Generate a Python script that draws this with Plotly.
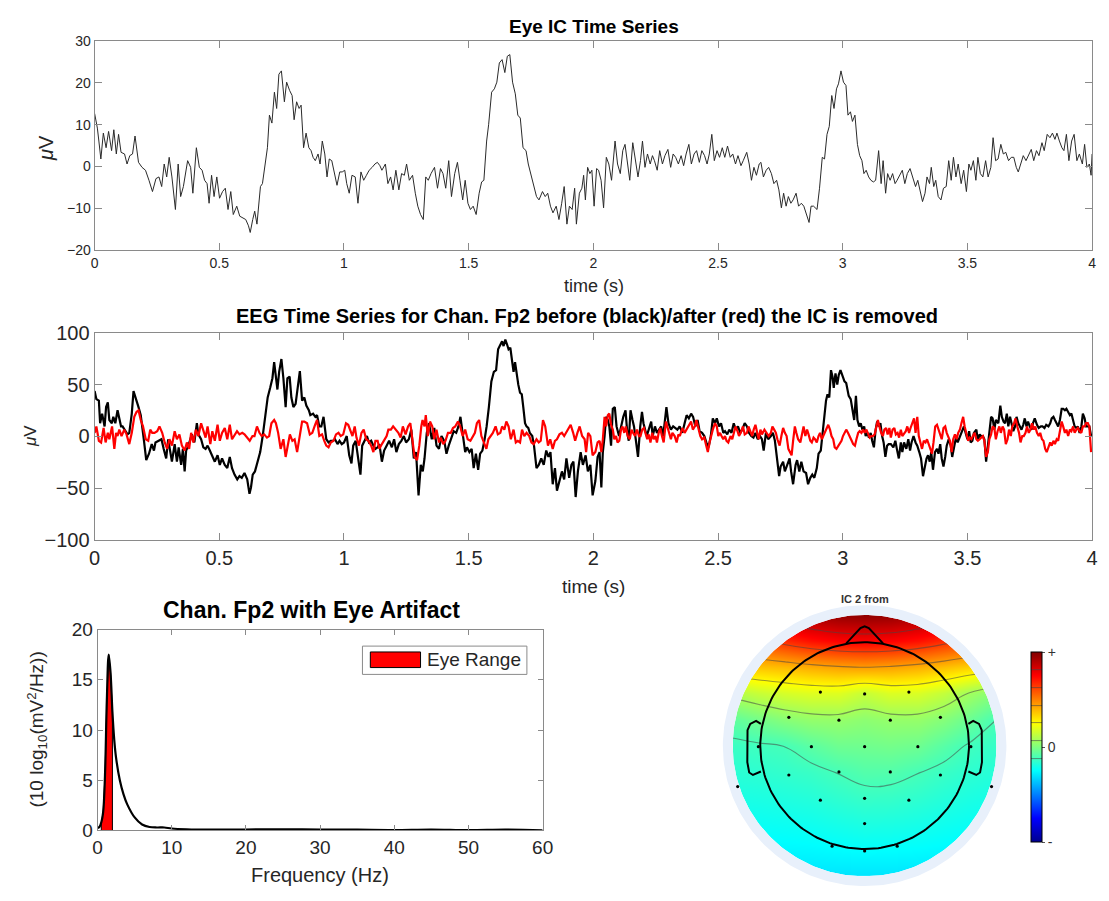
import numpy as np
import plotly.graph_objects as go

FONT = "Liberation Sans, Arial, Helvetica, sans-serif"
W, H = 1109, 901

# ---------------- Eye IC activation (time s, µV) ----------------
ic_pts = [
    (0.000, 12.7), (0.011, 9.2), (0.017, 6.1), (0.025, 1.8), (0.035, 8.0), (0.046, 4.5), (0.056, 8.4), (0.068, 3.8),
    (0.077, 8.8), (0.087, 3.0), (0.096, 7.7), (0.106, 3.4), (0.120, 3.0), (0.130, 0.6), (0.141, 2.6), (0.152, 3.0),
    (0.162, 7.3), (0.176, 1.0), (0.190, -0.2), (0.204, -0.9), (0.218, -3.3), (0.232, -6.0), (0.246, -2.9), (0.258, -2.5),
    (0.269, -4.8), (0.279, 0.6), (0.289, -2.5), (0.299, 2.2), (0.310, -2.5), (0.324, -10.3), (0.335, 0.6), (0.345, -7.2),
    (0.356, -4.8), (0.373, 1.4), (0.385, -0.2), (0.394, -6.4), (0.408, 4.5), (0.420, -0.2), (0.431, -0.9), (0.441, -3.3),
    (0.451, -4.1), (0.459, -8.8), (0.469, -2.1), (0.479, -7.2), (0.490, -2.5), (0.501, -7.6), (0.513, -6.0), (0.524, -5.2),
    (0.535, -10.3), (0.546, -6.0), (0.556, -11.5), (0.570, -9.5), (0.582, -11.9), (0.594, -12.3), (0.606, -12.7), (0.617, -14.2),
    (0.624, -15.8), (0.634, -12.7), (0.642, -10.7), (0.651, -13.8), (0.659, -9.5), (0.665, -4.8), (0.673, -4.1), (0.683, -0.2),
    (0.693, 4.5), (0.701, 12.3), (0.711, 10.4), (0.721, 17.8), (0.730, 13.9), (0.739, 22.1), (0.749, 22.9), (0.761, 15.5),
    (0.770, 20.2), (0.782, 18.2), (0.792, 17.0), (0.800, 11.2), (0.810, 15.5), (0.820, 13.9), (0.828, 14.7), (0.838, 4.5),
    (0.848, 8.0), (0.859, 4.5), (0.868, 3.8), (0.876, 2.2), (0.885, 1.4), (0.896, 3.0), (0.904, 0.6), (0.913, 6.1),
    (0.923, 3.0), (0.932, -2.5), (0.941, 1.8), (0.951, 1.4), (0.961, -1.3), (0.972, -4.5), (0.983, -1.3), (0.993, -1.3),
    (1.003, -0.9), (1.011, -4.1), (1.021, -6.4), (1.032, -2.1), (1.045, -2.5), (1.056, -8.8), (1.068, -1.3), (1.079, -3.3),
    (1.090, -2.1), (1.101, -0.9), (1.113, -0.2), (1.124, 0.6), (1.134, 1.0), (1.144, 0.2), (1.152, -0.9), (1.166, 0.6),
    (1.176, -4.1), (1.187, -2.5), (1.197, -5.6), (1.208, -0.9), (1.220, -5.6), (1.231, -1.7), (1.242, -2.1), (1.251, 0.6),
    (1.262, -3.3), (1.275, -2.1), (1.286, -6.4), (1.296, -9.5), (1.307, -11.5), (1.318, -12.7), (1.328, -2.5), (1.338, -3.3),
    (1.349, -1.7), (1.363, -0.2), (1.375, -5.2), (1.387, -0.5), (1.397, -1.7), (1.408, -5.2), (1.420, 1.4), (1.431, -7.2),
    (1.444, -1.7), (1.455, 1.0), (1.465, -3.3), (1.476, -8.0), (1.486, -3.3), (1.497, -8.8), (1.507, -10.3), (1.518, -9.5),
    (1.530, -11.5), (1.542, -6.4), (1.552, -3.7), (1.561, -3.3), (1.572, 6.1), (1.580, 10.0), (1.592, 17.8), (1.603, 18.6),
    (1.613, 20.2), (1.623, 24.8), (1.634, 25.6), (1.645, 22.5), (1.655, 26.4), (1.665, 26.8), (1.676, 20.2), (1.687, 17.4),
    (1.697, 12.3), (1.707, 11.6), (1.718, 4.5), (1.730, 3.8), (1.739, 0.6), (1.749, -1.7), (1.761, -4.8), (1.772, -7.2),
    (1.782, -8.0), (1.796, -6.0), (1.807, -7.2), (1.817, -6.4), (1.828, -9.5), (1.838, -11.1),
    (1.851, -9.5), (1.862, -12.7), (1.873, -8.8), (1.883, -4.8), (1.894, -13.8), (1.904, -9.5), (1.915, -10.3), (1.925, -5.2),
    (1.932, -13.8), (1.944, -6.4), (1.954, -5.2), (1.961, -2.1), (1.968, -8.0), (1.977, -0.2), (1.986, -1.7), (1.994, -0.9),
    (2.003, -9.5), (2.013, -0.5), (2.021, -0.9), (2.031, -3.3), (2.041, -9.9), (2.052, 2.2), (2.062, 0.6), (2.073, -3.3),
    (2.087, 6.1), (2.097, 0.6), (2.108, -1.7), (2.118, 3.8), (2.127, 5.3), (2.137, 0.6), (2.146, -3.3), (2.158, 5.7),
    (2.168, 1.4), (2.179, -2.5), (2.189, 1.4), (2.197, 6.1), (2.207, -0.2), (2.217, 3.0), (2.228, 0.6), (2.237, 2.6),
    (2.245, 1.4), (2.256, -0.9), (2.266, 3.8), (2.277, 0.6), (2.287, 2.6), (2.299, 4.1), (2.310, -0.2), (2.320, 3.0),
    (2.330, 2.2), (2.341, 0.6), (2.352, 2.6), (2.362, 0.2), (2.372, 3.0), (2.383, 5.3), (2.393, 0.6), (2.404, 3.0),
    (2.414, 3.8), (2.425, 1.0), (2.435, 3.8), (2.446, 2.6), (2.456, 0.6), (2.465, 3.0), (2.475, 7.7), (2.485, 1.4),
    (2.496, 3.8), (2.506, 2.2), (2.517, 4.5), (2.527, 2.2), (2.538, 4.9), (2.549, 2.2), (2.559, 3.0), (2.570, 0.6),
    (2.580, 2.6), (2.592, 0.2), (2.601, 1.4), (2.615, 3.4), (2.625, 0.6), (2.634, -3.3), (2.644, -0.2), (2.654, -2.1),
    (2.665, 0.6), (2.672, 1.0), (2.682, -2.5), (2.693, -0.9), (2.703, -0.2), (2.714, -1.7), (2.724, -4.1), (2.735, -3.3),
    (2.744, -5.6), (2.754, -9.9), (2.763, -6.4), (2.773, -9.5), (2.782, -7.2), (2.792, -8.8), (2.801, -8.0), (2.813, -6.4),
    (2.823, -9.5), (2.834, -8.8), (2.844, -9.5), (2.852, -11.1), (2.865, -13.4), (2.873, -9.5), (2.883, -9.5), (2.897, -10.3),
    (2.907, -5.2), (2.918, 2.2), (2.927, 1.8), (2.937, 7.7), (2.946, 9.6), (2.956, 17.0), (2.965, 13.9), (2.975, 18.6),
    (2.983, 19.8), (2.993, 22.9), (3.003, 20.2), (3.013, 19.4), (3.021, 12.3), (3.031, 13.1), (3.039, 10.8), (3.049, 12.3),
    (3.059, 5.3), (3.068, 2.6), (3.077, 1.4), (3.085, -1.7), (3.094, -0.9), (3.104, -2.5), (3.113, -3.3), (3.123, -3.7),
    (3.132, -3.3), (3.144, 3.8), (3.154, -4.1), (3.162, 1.4), (3.172, -6.4), (3.180, -1.7), (3.190, -3.3), (3.200, -1.7),
    (3.210, -4.1), (3.218, -3.3), (3.228, -2.1), (3.239, -0.9), (3.249, -4.1), (3.259, -1.7), (3.270, -0.5), (3.280, -2.5),
    (3.292, -4.8), (3.301, -3.3), (3.310, -5.6), (3.320, -8.4), (3.330, -6.4), (3.338, -2.5), (3.348, -4.1), (3.355, -0.2),
    (3.365, -4.8), (3.373, -3.3), (3.383, -7.2), (3.394, -8.0), (3.404, -5.2), (3.415, -4.8), (3.425, 1.4), (3.435, -3.3),
    (3.444, 2.2), (3.454, -2.5), (3.463, 0.6), (3.475, -4.1), (3.485, -0.9), (3.496, -6.0), (3.506, 0.6), (3.514, -0.9),
    (3.524, 1.4), (3.534, -3.3), (3.542, 2.2), (3.552, -1.7), (3.562, -2.5), (3.573, 1.4), (3.583, -2.5), (3.594, -0.2),
    (3.603, 6.9), (3.613, 1.4), (3.623, 1.8), (3.634, 5.3), (3.644, 3.0), (3.654, 3.4), (3.665, 1.4), (3.676, 2.2),
    (3.686, 2.2), (3.696, -0.2), (3.704, -1.3), (3.714, 0.6), (3.724, 2.6), (3.735, 1.4), (3.746, 3.0), (3.756, 4.1),
    (3.766, 1.4), (3.777, 3.8), (3.787, 2.6), (3.799, 5.7), (3.808, 3.8), (3.820, 7.7), (3.831, 6.9), (3.841, 8.0),
    (3.851, 6.5), (3.859, 8.0), (3.869, 6.1), (3.879, 4.5), (3.887, 3.8), (3.897, 7.7), (3.907, 1.4), (3.918, 6.1),
    (3.928, 7.7), (3.939, 1.4), (3.949, 3.0), (3.961, 0.6), (3.970, 5.3), (3.979, -0.2), (3.989, 0.6), (3.996, -2.1),
    (4.000, 3.0),
]

# ---------------- Fp2 before IC removal (time s, µV) ----------------
fp2_before_pts = [
    (0.000, 43.8), (0.007, 36.0), (0.017, 34.5), (0.022, 12.7), (0.030, 22.0), (0.040, 9.6), (0.046, 28.3), (0.053, 32.9),
    (0.059, 15.8), (0.069, 12.7), (0.075, 18.9), (0.083, 12.7), (0.092, 25.2), (0.099, 15.8), (0.106, 9.6), (0.112, 9.6),
    (0.123, 5.0), (0.132, 1.9), (0.139, 3.4), (0.149, 22.0), (0.156, 43.8), (0.165, 37.6), (0.176, 28.3), (0.185, 20.5),
    (0.192, 9.6), (0.198, -4.3), (0.207, -23.0), (0.218, -16.8), (0.229, -7.5), (0.238, -13.7), (0.244, -5.9), (0.258, -4.3),
    (0.268, -2.8), (0.277, -12.1), (0.287, -21.4), (0.295, -2.8), (0.304, -18.3), (0.310, -24.5), (0.321, -7.5), (0.330, -24.5),
    (0.337, -10.6), (0.347, -27.6), (0.354, -12.1), (0.361, -33.9), (0.367, -13.7), (0.376, -9.0), (0.390, 1.9), (0.400, -5.9),
    (0.410, 12.7), (0.416, 1.9), (0.427, -2.8), (0.436, -10.6), (0.445, -12.1), (0.453, -9.0), (0.462, -13.7), (0.472, -19.9),
    (0.482, -24.5), (0.493, -18.3), (0.502, -27.6), (0.511, -21.4), (0.522, -27.6), (0.532, -30.7), (0.542, -19.9), (0.551, -30.7),
    (0.561, -37.0), (0.572, -41.6), (0.581, -38.5), (0.590, -40.1), (0.601, -35.4), (0.612, -41.6), (0.621, -55.6), (0.627, -49.4),
    (0.634, -37.0), (0.643, -33.9), (0.654, -24.5), (0.664, -15.2), (0.674, 0.3), (0.683, 15.8), (0.694, 37.6), (0.704, 46.9),
    (0.713, 56.2), (0.720, 71.7), (0.727, 59.3), (0.733, 45.3), (0.740, 62.4), (0.749, 74.8), (0.757, 56.2), (0.766, 28.3),
    (0.773, 56.2), (0.782, 57.8), (0.789, 37.6), (0.797, 28.3), (0.806, 31.4), (0.815, 46.9), (0.823, 63.0), (0.832, 34.5),
    (0.841, 37.6), (0.849, 29.8), (0.859, 25.2), (0.865, 20.5), (0.876, 22.0), (0.885, 18.9), (0.892, 20.5), (0.901, 9.6),
    (0.909, 9.6), (0.918, 18.9), (0.929, -2.8), (0.938, -5.9), (0.947, -4.3), (0.955, -4.3), (0.964, -2.8), (0.974, -7.5),
    (0.982, -4.3), (0.991, -7.5), (1.000, -5.9), (1.011, 0.3), (1.021, -18.3),
    (1.030, -26.1), (1.037, -9.0), (1.047, -4.3), (1.056, -18.3), (1.066, -37.0), (1.073, -9.0), (1.083, -4.3), (1.092, 0.3),
    (1.100, -5.9), (1.109, -4.3), (1.118, -9.0), (1.126, -12.1), (1.135, -10.6), (1.142, -7.5), (1.152, -24.5), (1.161, -13.7),
    (1.171, -9.0), (1.181, -4.3), (1.192, -10.6), (1.201, -2.8), (1.210, -15.2), (1.220, -7.5), (1.230, -4.3), (1.240, 0.3),
    (1.249, -5.9), (1.260, -2.8), (1.270, 6.5), (1.280, -21.4), (1.289, -15.2), (1.299, -57.1), (1.308, -27.6), (1.316, -33.9),
    (1.323, -21.4), (1.332, 3.4), (1.341, 12.7), (1.352, -2.8), (1.362, 8.1), (1.371, -9.0), (1.381, -12.1), (1.391, 0.3),
    (1.402, -4.3), (1.411, -16.8), (1.420, -9.0), (1.430, -2.8), (1.440, 5.0), (1.450, 3.4), (1.459, 9.6), (1.467, 18.9),
    (1.476, 0.3), (1.486, -15.2), (1.493, -10.6), (1.503, -15.2), (1.512, -12.1), (1.520, -30.7), (1.529, -16.8), (1.538, -32.3),
    (1.546, -16.8), (1.555, -13.7), (1.564, -2.8), (1.572, 9.6), (1.581, 28.3), (1.591, 53.1), (1.601, 62.4), (1.610, 64.0),
    (1.618, 84.2), (1.627, 88.8), (1.634, 91.9), (1.640, 87.3), (1.647, 93.5), (1.654, 88.8), (1.660, 84.2), (1.667, 85.7),
    (1.673, 74.8), (1.680, 62.4), (1.686, 71.7), (1.693, 57.8), (1.699, 50.0), (1.706, 42.2), (1.713, 40.7), (1.719, 28.3),
    (1.726, 12.7), (1.732, 9.6), (1.739, 8.1), (1.745, 3.4), (1.755, 0.3), (1.762, -9.0), (1.772, -30.7), (1.781, -27.6),
    (1.791, -21.4), (1.801, -27.6), (1.811, -13.7), (1.820, -19.9), (1.828, -15.2), (1.837, -46.3), (1.846, -30.7), (1.854, -52.5),
    (1.864, -43.2), (1.874, -33.9), (1.883, -41.6), (1.892, -21.4), (1.903, -40.1), (1.912, -27.6), (1.920, -24.5), (1.929, -58.7),
    (1.938, -33.9), (1.949, -15.2), (1.958, -27.6), (1.969, -18.3), (1.978, -33.9), (1.988, -27.6), (1.997, -57.1), (2.008, -43.2),
    (2.017, -19.9),
    (2.025, -15.2), (2.032, -49.4), (2.038, -15.2), (2.045, 0.3), (2.051, 18.9), (2.058, 15.8), (2.064, 9.6), (2.071, -9.0),
    (2.078, 26.7), (2.086, 28.3), (2.093, 9.6), (2.103, 0.3), (2.111, 9.6), (2.120, 18.9), (2.129, 25.2), (2.136, 3.4),
    (2.142, -4.3), (2.149, 25.2), (2.157, 15.8), (2.163, 9.6), (2.170, -2.8), (2.179, -19.9), (2.188, 9.6), (2.195, 23.6),
    (2.201, 12.7), (2.208, 6.5), (2.214, 0.3), (2.222, 6.5), (2.232, 14.3), (2.238, 0.3), (2.247, 9.6), (2.255, 3.4),
    (2.264, 6.5), (2.272, 9.6), (2.280, 0.3), (2.288, 18.9), (2.293, 28.3), (2.301, 12.7), (2.311, 6.5), (2.320, 9.6),
    (2.328, 8.1), (2.337, 6.5), (2.346, 9.6), (2.357, 3.4), (2.366, 12.7), (2.374, 20.5), (2.383, 17.4), (2.392, 22.0),
    (2.400, 18.9), (2.409, 9.6), (2.418, 15.8), (2.426, 5.0), (2.436, 3.4), (2.445, 0.3), (2.453, -5.9), (2.462, -10.6),
    (2.471, 0.3), (2.479, 17.4), (2.488, 12.7), (2.495, 17.4), (2.504, 9.6), (2.512, 12.7), (2.521, 3.4), (2.528, 5.0),
    (2.537, 1.9), (2.545, 6.5), (2.554, 3.4), (2.563, 12.7), (2.571, 6.5), (2.580, 9.6), (2.589, 3.4), (2.597, 6.5),
    (2.607, 12.7), (2.616, 9.6), (2.624, 3.4), (2.633, 0.3), (2.642, -1.2), (2.650, 3.4), (2.659, -2.8), (2.668, 0.3),
    (2.676, -2.8), (2.683, -13.7), (2.692, 3.4), (2.701, -2.8), (2.712, 0.3), (2.720, 3.4), (2.728, -4.3), (2.736, -21.4),
    (2.745, -38.5), (2.751, -29.2), (2.761, -24.5), (2.768, -33.9), (2.778, -27.6), (2.787, -21.4), (2.793, -33.9), (2.801, -46.3),
    (2.811, -27.6), (2.817, -23.0), (2.826, -33.9), (2.834, -24.5), (2.843, -33.9), (2.853, -35.4), (2.861, -46.3), (2.870, -40.1),
    (2.878, -37.0), (2.886, -40.1), (2.896, -30.7), (2.903, -16.8), (2.912, -13.7), (2.918, 0.3), (2.925, 12.7), (2.933, 34.5),
    (2.939, 40.7), (2.946, 37.6), (2.953, 64.0), (2.959, 57.8), (2.964, 46.9), (2.971, 60.9), (2.978, 50.0), (2.984, 59.3),
    (2.991, 64.0), (2.999, 59.3), (3.007, 53.1), (3.014, 51.6), (3.024, 39.1), (3.032, 36.0),
    (3.039, 25.2), (3.046, 15.8), (3.053, 39.1), (3.059, 15.8), (3.066, 9.6), (3.072, 12.7), (3.079, 6.5), (3.086, 9.6),
    (3.092, 0.3), (3.099, 3.4), (3.105, -1.2), (3.112, 3.4), (3.118, -4.3), (3.125, -10.6), (3.132, 6.5), (3.138, 14.3),
    (3.145, 9.6), (3.151, 12.7), (3.158, 0.3), (3.164, -5.9), (3.171, -19.9), (3.178, -9.0), (3.184, -7.5), (3.193, -7.5),
    (3.203, -10.6), (3.211, -4.3), (3.217, -12.1), (3.225, -21.4), (3.233, -5.9), (3.239, -15.2), (3.246, -5.9), (3.255, -12.1),
    (3.263, -2.8), (3.270, -13.7), (3.276, -5.9), (3.284, 0.3), (3.292, -5.9), (3.299, -9.0), (3.307, -15.2), (3.314, -21.4),
    (3.322, -38.5), (3.329, -27.6), (3.336, -21.4), (3.342, -18.3), (3.349, -24.5), (3.355, -15.2), (3.362, -32.3), (3.370, -15.2),
    (3.378, -12.1), (3.384, -16.8), (3.391, -7.5), (3.397, -21.4), (3.404, -29.2), (3.411, -19.9), (3.417, -9.0), (3.425, -2.8),
    (3.433, -9.0), (3.439, -19.9), (3.446, -9.0), (3.454, -1.2), (3.461, -5.9), (3.470, 0.3), (3.479, 6.5), (3.486, 9.6),
    (3.493, 3.4), (3.500, -2.8), (3.507, 5.0), (3.513, -5.9), (3.520, -4.3), (3.526, 3.4), (3.536, 6.5), (3.542, -4.3),
    (3.549, 1.9), (3.555, 0.3), (3.562, 0.3), (3.568, -2.8), (3.575, -24.5), (3.582, -9.0), (3.588, 1.9), (3.595, 18.9),
    (3.601, 17.4), (3.608, 6.5), (3.614, 15.8), (3.624, 12.7), (3.632, 29.8), (3.638, 18.9), (3.645, 14.3), (3.651, 12.7),
    (3.658, 22.0), (3.664, 9.6), (3.671, 18.9), (3.678, 12.7), (3.684, 5.0), (3.691, 9.6), (3.697, 18.9), (3.704, 12.7),
    (3.711, 9.6), (3.717, 6.5), (3.724, 11.2), (3.730, 17.4), (3.737, 9.6), (3.743, 14.3), (3.750, 9.6), (3.757, 6.5),
    (3.763, 12.7), (3.770, 17.4), (3.779, 11.2), (3.786, 8.1), (3.795, 9.6), (3.801, 9.6), (3.809, 8.1), (3.816, 11.2),
    (3.825, 9.6), (3.832, 12.7), (3.838, 17.4), (3.845, 18.9), (3.851, 15.8), (3.858, 12.7), (3.864, 9.6), (3.871, 15.8),
    (3.878, 26.7), (3.884, 26.7), (3.891, 25.2), (3.897, 26.7), (3.904, 23.6), (3.911, 20.5), (3.917, 22.0), (3.924, 15.8),
    (3.930, 9.6), (3.937, 8.1), (3.943, 9.6), (3.950, 3.4), (3.957, 9.6), (3.963, 22.0), (3.970, 17.4), (3.976, 9.6),
    (3.983, 9.6), (3.989, 9.6), (3.996, 0.3),
]

# ---------------- Fp2 after IC removal (time s, µV) ----------------
fp2_after_pts = [
    (0.000, 3.4), (0.007, 9.6), (0.017, -4.3), (0.026, -5.9), (0.036, 8.1), (0.044, -5.9), (0.053, 3.4), (0.059, -2.8),
    (0.070, 9.6), (0.079, -12.1), (0.086, 3.4), (0.092, 0.3), (0.099, 6.5), (0.108, 0.3), (0.119, 6.5), (0.128, 1.9),
    (0.139, -7.5), (0.149, 3.4), (0.159, 18.9), (0.168, 23.6), (0.176, 25.2), (0.185, 15.8), (0.194, 9.6), (0.205, -2.8),
    (0.215, -4.3), (0.223, 6.5), (0.231, 3.4), (0.240, 3.4), (0.251, 5.0), (0.260, 9.6), (0.271, 3.4), (0.281, -5.9),
    (0.291, -12.1), (0.300, -2.8), (0.310, -9.0), (0.321, 5.0), (0.330, -2.8), (0.340, 1.9), (0.350, -9.0), (0.361, -13.7),
    (0.370, -5.9), (0.379, -12.1), (0.387, 3.4), (0.396, -5.9), (0.406, 6.5), (0.416, 0.3), (0.427, 12.7), (0.436, 6.5),
    (0.445, -1.2), (0.453, 9.6), (0.464, -7.5), (0.472, 5.0), (0.482, -4.3), (0.493, 11.2), (0.502, -4.3), (0.511, 3.4),
    (0.522, 8.1), (0.532, -2.8), (0.542, 11.2), (0.551, -2.8), (0.561, 1.9), (0.571, 5.0), (0.581, 1.9), (0.592, 3.4),
    (0.601, 1.9), (0.612, -1.2), (0.622, -4.3), (0.633, 0.3), (0.641, 0.3), (0.651, 9.6), (0.661, 3.4), (0.670, 0.3),
    (0.680, 1.9), (0.691, -1.2), (0.700, 0.3), (0.709, 12.7), (0.720, 15.8), (0.727, 12.7), (0.736, 3.4), (0.746, -12.1),
    (0.757, -2.8), (0.766, -19.9), (0.775, -9.0), (0.783, 1.9), (0.793, -4.3), (0.802, -2.8), (0.812, -15.2), (0.823, 0.3),
    (0.832, 14.3), (0.841, 14.3), (0.852, 12.7), (0.863, 1.9), (0.873, 3.4), (0.884, 11.2), (0.892, 15.8), (0.901, 0.3),
    (0.912, 1.9), (0.921, -4.3), (0.929, -9.0), (0.938, -10.6), (0.947, -5.9), (0.958, -4.3), (0.968, 1.9), (0.978, 3.4),
    (0.987, 0.3), (0.997, 1.9), (1.008, 12.7), (1.017, 11.2),
    (1.034, 0.3), (1.043, 9.6), (1.050, -1.2), (1.060, -9.0), (1.070, 3.4), (1.079, 6.5), (1.089, -2.8), (1.098, -4.3),
    (1.109, -9.0), (1.118, -15.2), (1.126, -4.3), (1.135, -4.3), (1.142, -12.1), (1.152, -7.5), (1.161, -4.3), (1.171, 0.3),
    (1.178, 6.5), (1.188, 6.5), (1.197, 9.6), (1.207, 6.5), (1.218, 3.4), (1.227, -1.2), (1.236, 9.6), (1.247, 1.9),
    (1.257, 9.6), (1.266, 12.7), (1.276, -5.9), (1.283, -19.9), (1.293, -23.0), (1.302, -9.0), (1.310, 9.6), (1.315, 15.8),
    (1.323, 9.6), (1.328, 20.5), (1.336, 0.3), (1.345, 14.3), (1.354, 9.6), (1.362, -2.8), (1.371, 6.5), (1.381, -5.9),
    (1.388, -1.2), (1.398, -7.5), (1.407, -4.3), (1.417, 3.4), (1.428, 3.4), (1.437, 8.1), (1.446, 9.6), (1.457, 14.3),
    (1.466, 9.6), (1.476, 0.3), (1.486, 6.5), (1.496, -2.8), (1.507, -4.3), (1.516, 0.3), (1.525, 3.4), (1.533, 12.7),
    (1.542, 15.8), (1.551, 0.3), (1.562, -5.9), (1.571, -12.1), (1.579, -2.8), (1.588, 0.3), (1.597, 3.4), (1.608, 9.6),
    (1.617, 1.9), (1.627, 3.4), (1.634, 9.6), (1.643, 6.5), (1.651, 14.3), (1.660, 9.6), (1.669, -2.8), (1.680, 6.5),
    (1.689, -5.9), (1.697, -4.3), (1.706, -5.9), (1.714, 6.5), (1.723, 0.3), (1.732, 3.4), (1.743, 0.3), (1.752, -5.9),
    (1.761, -7.5), (1.772, -2.8), (1.781, -5.9), (1.789, -4.3), (1.798, 15.8), (1.807, 9.6), (1.818, -9.0), (1.827, -2.8),
    (1.837, -12.1), (1.846, -4.3), (1.854, -2.8), (1.864, 1.9), (1.874, 3.4), (1.883, 0.3), (1.890, 3.4), (1.899, 6.5),
    (1.909, 11.2), (1.919, 3.4), (1.927, -4.3), (1.936, 3.4), (1.945, 9.6), (1.955, 0.3), (1.965, -2.8), (1.971, -15.2),
    (1.979, 3.4), (1.988, 0.3), (1.997, -18.3), (2.008, -15.2), (2.017, -5.9),
    (2.025, -4.3), (2.032, -15.2), (2.038, -2.8), (2.045, 18.9), (2.051, 9.6), (2.058, 20.5), (2.064, 22.0), (2.071, 11.2),
    (2.078, 6.5), (2.084, -2.8), (2.091, 0.3), (2.097, -5.9), (2.104, -4.3), (2.111, 6.5), (2.117, 9.6), (2.124, 3.4),
    (2.130, 9.6), (2.138, 0.3), (2.146, -2.8), (2.153, 6.5), (2.159, 3.4), (2.167, 0.3), (2.175, 6.5), (2.183, 0.3),
    (2.189, 0.3), (2.196, 6.5), (2.203, 8.1), (2.209, 1.9), (2.216, -2.8), (2.222, 1.9), (2.229, -5.9), (2.236, 3.4),
    (2.242, -2.8), (2.249, 0.3), (2.255, -5.9), (2.262, 3.4), (2.268, 8.1), (2.275, 0.3), (2.282, -5.9), (2.291, 14.3),
    (2.297, 9.6), (2.304, 5.0), (2.311, -2.8), (2.317, 3.4), (2.326, 0.3), (2.334, -5.9), (2.341, 1.9), (2.347, 0.3),
    (2.357, 8.1), (2.366, 3.4), (2.374, 6.5), (2.383, 9.6), (2.392, 14.3), (2.399, 6.5), (2.407, 9.6), (2.413, 15.8),
    (2.420, 9.6), (2.429, 0.3), (2.436, -2.8), (2.445, -1.2), (2.451, -7.5), (2.459, -15.2), (2.466, -5.9), (2.472, 0.3),
    (2.479, 6.5), (2.488, 12.7), (2.495, 9.6), (2.501, 0.3), (2.508, 3.4), (2.514, 0.3), (2.521, -2.8), (2.528, 0.3),
    (2.534, -4.3), (2.541, -5.9), (2.550, 0.3), (2.557, -2.8), (2.563, 1.9), (2.570, 9.6), (2.578, 5.0), (2.584, 0.3),
    (2.591, 3.4), (2.600, 9.6), (2.607, 1.9), (2.616, 3.4), (2.622, 9.6), (2.630, 3.4), (2.637, 0.3), (2.643, 6.5),
    (2.650, 11.2), (2.657, 3.4), (2.663, -2.8), (2.670, 6.5), (2.676, 1.9), (2.686, 6.5), (2.695, 3.4), (2.703, 0.3),
    (2.712, 3.4), (2.718, 9.6), (2.725, 6.5), (2.732, 3.4), (2.738, -2.8), (2.747, -9.0), (2.754, 0.3), (2.761, 8.1),
    (2.768, 3.4), (2.775, 0.3), (2.782, -12.1), (2.788, -15.2), (2.795, -18.3), (2.801, -4.3), (2.808, 9.6), (2.814, 3.4),
    (2.821, -2.8), (2.830, -5.9), (2.837, 3.4), (2.843, 9.6), (2.850, 0.3), (2.857, 6.5), (2.863, 1.9), (2.870, -4.3),
    (2.876, -5.9), (2.883, -1.2), (2.889, -2.8), (2.896, -5.9), (2.903, 0.3), (2.909, 3.4), (2.916, -2.8), (2.922, 0.3),
    (2.929, 3.4), (2.936, 8.1), (2.942, 11.2), (2.949, 6.5), (2.955, 0.3), (2.962, -2.8), (2.968, -10.6), (2.975, -12.1),
    (2.982, -9.0), (2.988, -7.5), (2.995, -4.3), (3.001, 0.3), (3.008, 3.4), (3.014, 6.5), (3.021, 3.4), (3.028, 0.3),
    (3.036, -4.3), (3.042, -7.5), (3.049, -9.0), (3.055, -2.8), (3.062, 3.4), (3.068, 5.0), (3.075, 3.4), (3.082, 6.5),
    (3.088, 3.4), (3.095, 6.5), (3.101, 3.4), (3.108, -1.2), (3.114, 0.3), (3.121, 0.3), (3.128, 1.9), (3.134, 9.6),
    (3.141, 15.8), (3.147, 9.6), (3.154, 3.4), (3.161, 0.3), (3.167, 6.5), (3.174, 8.1), (3.180, 1.9), (3.187, 8.1),
    (3.193, -1.2), (3.200, 6.5), (3.207, 8.1), (3.213, 1.9), (3.220, 3.4), (3.226, -1.2), (3.233, 6.5), (3.239, 0.3),
    (3.246, 3.4), (3.253, 5.0), (3.259, 9.6), (3.266, 3.4), (3.272, 8.1), (3.279, 12.7), (3.286, 17.4), (3.292, 3.4),
    (3.299, 18.9), (3.305, 0.3), (3.312, -5.9), (3.318, -12.1), (3.325, -4.3), (3.332, -5.9), (3.338, -2.8), (3.345, -7.5),
    (3.351, -12.1), (3.358, -16.8), (3.364, -5.9), (3.371, 9.6), (3.378, 11.2), (3.384, 6.5), (3.391, 1.9), (3.397, -2.8),
    (3.404, 8.1), (3.411, 9.6), (3.417, 3.4), (3.424, -1.2), (3.430, -4.3), (3.437, -15.2), (3.443, -2.8), (3.450, 1.9),
    (3.457, -2.8), (3.463, 3.4), (3.470, 6.5), (3.476, 12.7), (3.483, 18.9), (3.489, 9.6), (3.496, 1.9), (3.503, -4.3),
    (3.509, -1.2), (3.516, -2.8), (3.522, 0.3), (3.529, 3.4), (3.536, -2.8), (3.542, -4.3), (3.549, -2.8), (3.555, -1.2),
    (3.562, 0.3), (3.568, -4.3), (3.575, -19.9), (3.582, -15.2), (3.588, -2.8), (3.595, 1.9), (3.601, 9.6), (3.608, 8.1),
    (3.614, -2.8), (3.621, 5.0), (3.628, 9.6), (3.634, 3.4), (3.641, 9.6), (3.647, 6.5), (3.654, -7.5), (3.661, -2.8),
    (3.667, 6.5), (3.674, 0.3), (3.680, 9.6), (3.687, 12.7), (3.693, 17.4), (3.700, 9.6), (3.707, 3.4), (3.713, -5.9),
    (3.720, 0.3), (3.726, 0.3), (3.733, 3.4), (3.739, 9.6), (3.746, 3.4), (3.753, 6.5), (3.759, 12.7), (3.766, 6.5),
    (3.772, 9.6), (3.779, 3.4), (3.786, 0.3), (3.792, 3.4), (3.799, -2.8), (3.805, -4.3), (3.812, -12.1), (3.818, -15.2),
    (3.825, -10.6), (3.832, -5.9), (3.838, -9.0), (3.845, -4.3), (3.851, -7.5), (3.858, -2.8), (3.864, -4.3), (3.871, 6.5),
    (3.878, 14.3), (3.884, 9.6), (3.891, 3.4), (3.897, 6.5), (3.904, 0.3), (3.911, 6.5), (3.917, 5.0), (3.924, 9.6),
    (3.930, 3.4), (3.937, 6.5), (3.943, 8.1), (3.950, 5.0), (3.957, 3.4), (3.963, 9.6), (3.970, 9.6), (3.976, 12.7),
    (3.983, 12.7), (3.989, 9.6), (3.996, -15.2),
]

# ---------------- Fp2 power spectrum ----------------
psd_freq = [0, 0.25, 0.5, 0.75, 1.0, 1.25, 1.5, 1.75, 2.0, 2.25, 2.5, 3, 3.5, 4, 5, 6, 7, 8, 9, 10, 12, 15,
            20, 25, 30, 35, 40, 45, 50, 55, 60]
psd_db = [0.25, 0.35, 0.8, 1.8, 5.5, 13.0, 17.5, 15.7, 11.8, 9.0, 7.2, 5.0, 3.6, 2.6, 1.3, 0.6, 0.35, 0.3, 0.3, 0.2,
          0.12, 0.08, 0.1, 0.12, 0.1, 0.08, 0.05, 0.1, 0.03, 0.08, 0.02]
eye_band = (0.5, 2.0)

# ---------------- IC 2 scalp map ----------------
# map values on an 11 x 11 grid, front row first (colour units: -1 .. +1)
topo_rows = [
    [0.84, 0.87, 0.90, 0.93, 0.96, 0.97, 0.96, 0.93, 0.90, 0.87, 0.84],
    [0.566, 0.606, 0.67, 0.72, 0.75, 0.76, 0.75, 0.72, 0.666, 0.606, 0.566],
    [0.344, 0.368, 0.387, 0.414, 0.434, 0.445, 0.434, 0.411, 0.377, 0.342, 0.296],
    [0.101, 0.143, 0.172, 0.19, 0.19, 0.14, 0.184, 0.18, 0.135, 0.064, 0.011],
    [-0.065, -0.024, 0.015, 0.04, 0.044, 0.026, 0.043, 0.044, 0.01, -0.045, -0.114],
    [-0.134, -0.124, -0.112, -0.069, -0.033, -0.03, -0.021, -0.033, -0.077, -0.124, -0.145],
    [-0.167, -0.16, -0.149, -0.136, -0.11, -0.085, -0.086, -0.11, -0.136, -0.16, -0.176],
    [-0.2, -0.195, -0.187, -0.177, -0.157, -0.14, -0.143, -0.157, -0.177, -0.195, -0.207],
    [-0.233, -0.23, -0.225, -0.218, -0.205, -0.193, -0.195, -0.205, -0.218, -0.23, -0.237],
    [-0.267, -0.265, -0.262, -0.259, -0.252, -0.246, -0.248, -0.252, -0.259, -0.265, -0.269],
    [-0.30, -0.30, -0.30, -0.30, -0.30, -0.30, -0.30, -0.30, -0.30, -0.30, -0.30],
]
elec_x = [-0.212, 0.0, 0.212, -0.363, -0.123, 0.123, 0.363, -0.509, -0.255, 0.0, 0.255, 0.509, -0.608,
          -0.363, -0.123, 0.123, 0.363, 0.608, -0.212, 0.0, 0.212, 0.0, 0.0, -0.156, 0.156]
elec_y = [0.259, 0.25, 0.259, 0.137, 0.123, 0.123, 0.137, -0.005, -0.005, -0.005, -0.005, -0.005, -0.198,
          -0.142, -0.127, -0.127, -0.142, -0.198, -0.264, -0.255, -0.264, -0.377, -0.509, -0.486, -0.486]

JET = [[0.0, "rgb(0,0,143)"], [0.125, "rgb(0,0,255)"], [0.375, "rgb(0,255,255)"],
       [0.625, "rgb(255,255,0)"], [0.875, "rgb(255,0,0)"], [1.0, "rgb(128,0,0)"]]

AX_LINE = "#8a8a8a"
TXT = "#262626"


def fx(p):
    return p / W


def fy(p):
    return 1 - p / H


def unzip(pts):
    return [p[0] for p in pts], [p[1] for p in pts]


fig = go.Figure()

t_ic, v_ic = unzip(ic_pts)
fig.add_trace(go.Scatter(x=t_ic, y=v_ic, mode="lines", line=dict(color="#2a2a2a", width=1),
                         xaxis="x", yaxis="y", showlegend=False, hoverinfo="skip"))

t_b, v_b = unzip(fp2_before_pts)
t_a, v_a = unzip(fp2_after_pts)
fig.add_trace(go.Scatter(x=t_b, y=v_b, mode="lines", line=dict(color="black", width=2.2),
                         xaxis="x2", yaxis="y2", showlegend=False, hoverinfo="skip"))
fig.add_trace(go.Scatter(x=t_a, y=v_a, mode="lines", line=dict(color="#ff0000", width=2.2),
                         xaxis="x2", yaxis="y2", showlegend=False, hoverinfo="skip"))

# eye-range patch under the spectrum
band = [(f, p) for f, p in zip(psd_freq, psd_db) if eye_band[0] <= f <= eye_band[1]]
bx = [eye_band[0]] + [b[0] for b in band] + [eye_band[1], eye_band[0]]
by = [0] + [b[1] for b in band] + [0, 0]
fig.add_trace(go.Scatter(x=bx, y=by, mode="lines", fill="toself", fillcolor="#ff0000",
                         line=dict(color="black", width=1), xaxis="x3", yaxis="y3",
                         showlegend=False, hoverinfo="skip"))
fig.add_trace(go.Scatter(x=psd_freq, y=psd_db, mode="lines", line=dict(color="black", width=2.2),
                         line_shape="spline", xaxis="x3", yaxis="y3", showlegend=False, hoverinfo="skip"))

# ---------------- scalp map ----------------
PX_PER_UNIT = 212.0          # head radius 0.5 -> 106 px
CX, CY = 872.0, 753.0        # map centre in page pixels
R_DISK, R_RING = 134.0, 144.0
grid = np.linspace(-R_DISK, R_DISK, 11) / PX_PER_UNIT
gz = np.array(topo_rows)[::-1]
fig.add_trace(go.Contour(
    x=grid, y=grid, z=gz, colorscale=JET, zmin=-1, zmax=1, zauto=False, autocontour=False,
    contours=dict(coloring="heatmap", start=-0.114, end=0.82, size=0.186, showlines=True),
    line=dict(color="rgba(70,70,70,0.55)", width=1.1, smoothing=1.2),
    xaxis="x4", yaxis="y4", hoverinfo="skip", showscale=True,
    colorbar=dict(x=fx(1041), xanchor="left", y=fy(754.5), yanchor="middle", len=195 / H,
                  lenmode="fraction", thickness=11, thicknessmode="pixels", outlinecolor="black",
                  outlinewidth=1, tickvals=[-1, 0, 1], ticktext=["-", "0", "+"], ticks="outside",
                  ticklen=3, tickcolor="#555", tickfont=dict(size=14, color="#333", family=FONT),
                  xpad=0, ypad=0),
))

th = np.linspace(0, 2 * np.pi, 241)


def annulus(r_in, r_out):
    xs = np.concatenate([r_out * np.cos(th), r_in * np.cos(th[::-1])]) / PX_PER_UNIT
    ys = np.concatenate([r_out * np.sin(th), r_in * np.sin(th[::-1])]) / PX_PER_UNIT
    return xs, ys


mx, my = annulus(R_DISK, 260)
fig.add_trace(go.Scatter(x=mx, y=my, mode="lines", fill="toself", fillcolor="white",
                         line=dict(width=0, color="white"), xaxis="x4", yaxis="y4",
                         showlegend=False, hoverinfo="skip"))
rx, ry = annulus(R_DISK, R_RING)
fig.add_trace(go.Scatter(x=rx, y=ry, mode="lines", fill="toself", fillcolor="#e8f0fb",
                         line=dict(width=0, color="#e8f0fb"), xaxis="x4", yaxis="y4",
                         showlegend=False, hoverinfo="skip"))

# head outline, nose and ears
head_x = 0.5 * np.cos(th)
head_y = 0.5 * np.sin(th)
nose_x = [-0.088, -0.02, 0.0, 0.02, 0.088]
nose_y = [0.494, 0.568, 0.577, 0.568, 0.494]
ear_x = [-0.497, -0.52, -0.548, -0.561, -0.562, -0.553, -0.535, -0.497]
ear_y = [0.105, 0.12, 0.105, 0.075, -0.08, -0.13, -0.142, -0.125]
for xs, ys in [(head_x, head_y), (nose_x, nose_y), (ear_x, ear_y), ([-v for v in ear_x], ear_y)]:
    fig.add_trace(go.Scatter(x=xs, y=ys, mode="lines", line=dict(color="black", width=2),
                             xaxis="x4", yaxis="y4", showlegend=False, hoverinfo="skip"))
fig.add_trace(go.Scatter(x=elec_x, y=elec_y, mode="markers", marker=dict(color="black", size=3.2),
                         xaxis="x4", yaxis="y4", showlegend=False, hoverinfo="skip"))

# ---------------- axes ----------------
def ax_style(size, **kw):
    d = dict(showline=True, linecolor=AX_LINE, linewidth=1, mirror="ticks", ticks="inside",
             ticklen=6, tickcolor=AX_LINE, showgrid=False, zeroline=False,
             tickfont=dict(size=size, color=TXT, family=FONT))
    d.update(kw)
    return d


layout_axes = dict(
    xaxis=ax_style(14, domain=[fx(90), fx(1103)], range=[0, 4], tick0=0, dtick=0.5, anchor="y", ticklen=7),
    yaxis=ax_style(14, domain=[fy(245), fy(31)], range=[-20, 30], tick0=-20, dtick=10, anchor="x", ticklen=7),
    xaxis2=ax_style(20, domain=[fx(90), fx(1103)], range=[0, 4], tick0=0, dtick=0.5, anchor="y2", ticklen=7),
    yaxis2=ax_style(20, domain=[fy(542), fy(330)], range=[-100, 100], tick0=-100, dtick=50, anchor="x2", ticklen=7),
    xaxis3=ax_style(19, domain=[fx(93), fx(545)], range=[0, 60], tick0=0, dtick=10, anchor="y3", ticklen=5),
    yaxis3=ax_style(19, domain=[fy(840), fy(634)], range=[0, 20], tick0=0, dtick=5, anchor="x3", ticklen=5),
    xaxis4=dict(domain=[fx(CX - 150), fx(CX + 150)], range=[-150 / PX_PER_UNIT, 150 / PX_PER_UNIT],
                visible=False, anchor="y4", fixedrange=True),
    yaxis4=dict(domain=[fy(901), fy(604)], range=[(CY - 901) / PX_PER_UNIT, (CY - 604) / PX_PER_UNIT],
                visible=False, anchor="x4", fixedrange=True),
)


def label(text, x, y, size, bold=False, angle=0, xanchor="center", color=TXT):
    return dict(text=f"<b>{text}</b>" if bold else text, x=fx(x), y=fy(y), xref="paper", yref="paper",
                showarrow=False, textangle=angle, xanchor=xanchor, yanchor="middle",
                font=dict(size=size, color=color, family=FONT))


annotations = [
    label("Eye IC Time Series", 597, 16, 19, bold=True, color="black"),
    label("time (s)", 597, 282, 18),
    label("<i>μ</i>V", 40, 140, 20, angle=-90),
    label("EEG Time Series for Chan. Fp2 before (black)/after (red) the IC is removed", 590, 313, 20,
          bold=True, color="black"),
    label("time (s)", 597, 590, 19),
    label("<i>μ</i>V", 25, 436, 17, angle=-90),
    label("Chan. Fp2 with Eye Artifact", 310, 614, 23, bold=True, color="black"),
    label("Frequency (Hz)", 319, 886, 20),
    label("(10 log<sub>10</sub>(mV<sup>2</sup>/Hz))", 31, 737, 19, angle=-90),
    label("IC 2 from", 872, 603, 11, bold=True, color="#333"),
    label("Eye Range", 426, 665, 19, xanchor="left"),
]

shapes = [
    dict(type="rect", xref="paper", yref="paper", x0=fx(362), x1=fx(529), y0=fy(680), y1=fy(651),
         line=dict(color="#8a8a8a", width=1), fillcolor="white", layer="above"),
    dict(type="rect", xref="paper", yref="paper", x0=fx(370), x1=fx(421), y0=fy(673), y1=fy(657),
         line=dict(color="black", width=1), fillcolor="#ff0000", layer="above"),
]

fig.update_layout(
    width=W, height=H, margin=dict(l=0, r=0, t=0, b=0), paper_bgcolor="white", plot_bgcolor="white",
    showlegend=False, annotations=annotations, shapes=shapes, font=dict(family=FONT, color=TXT),
    **layout_axes,
)

fig.write_html("out.html")
